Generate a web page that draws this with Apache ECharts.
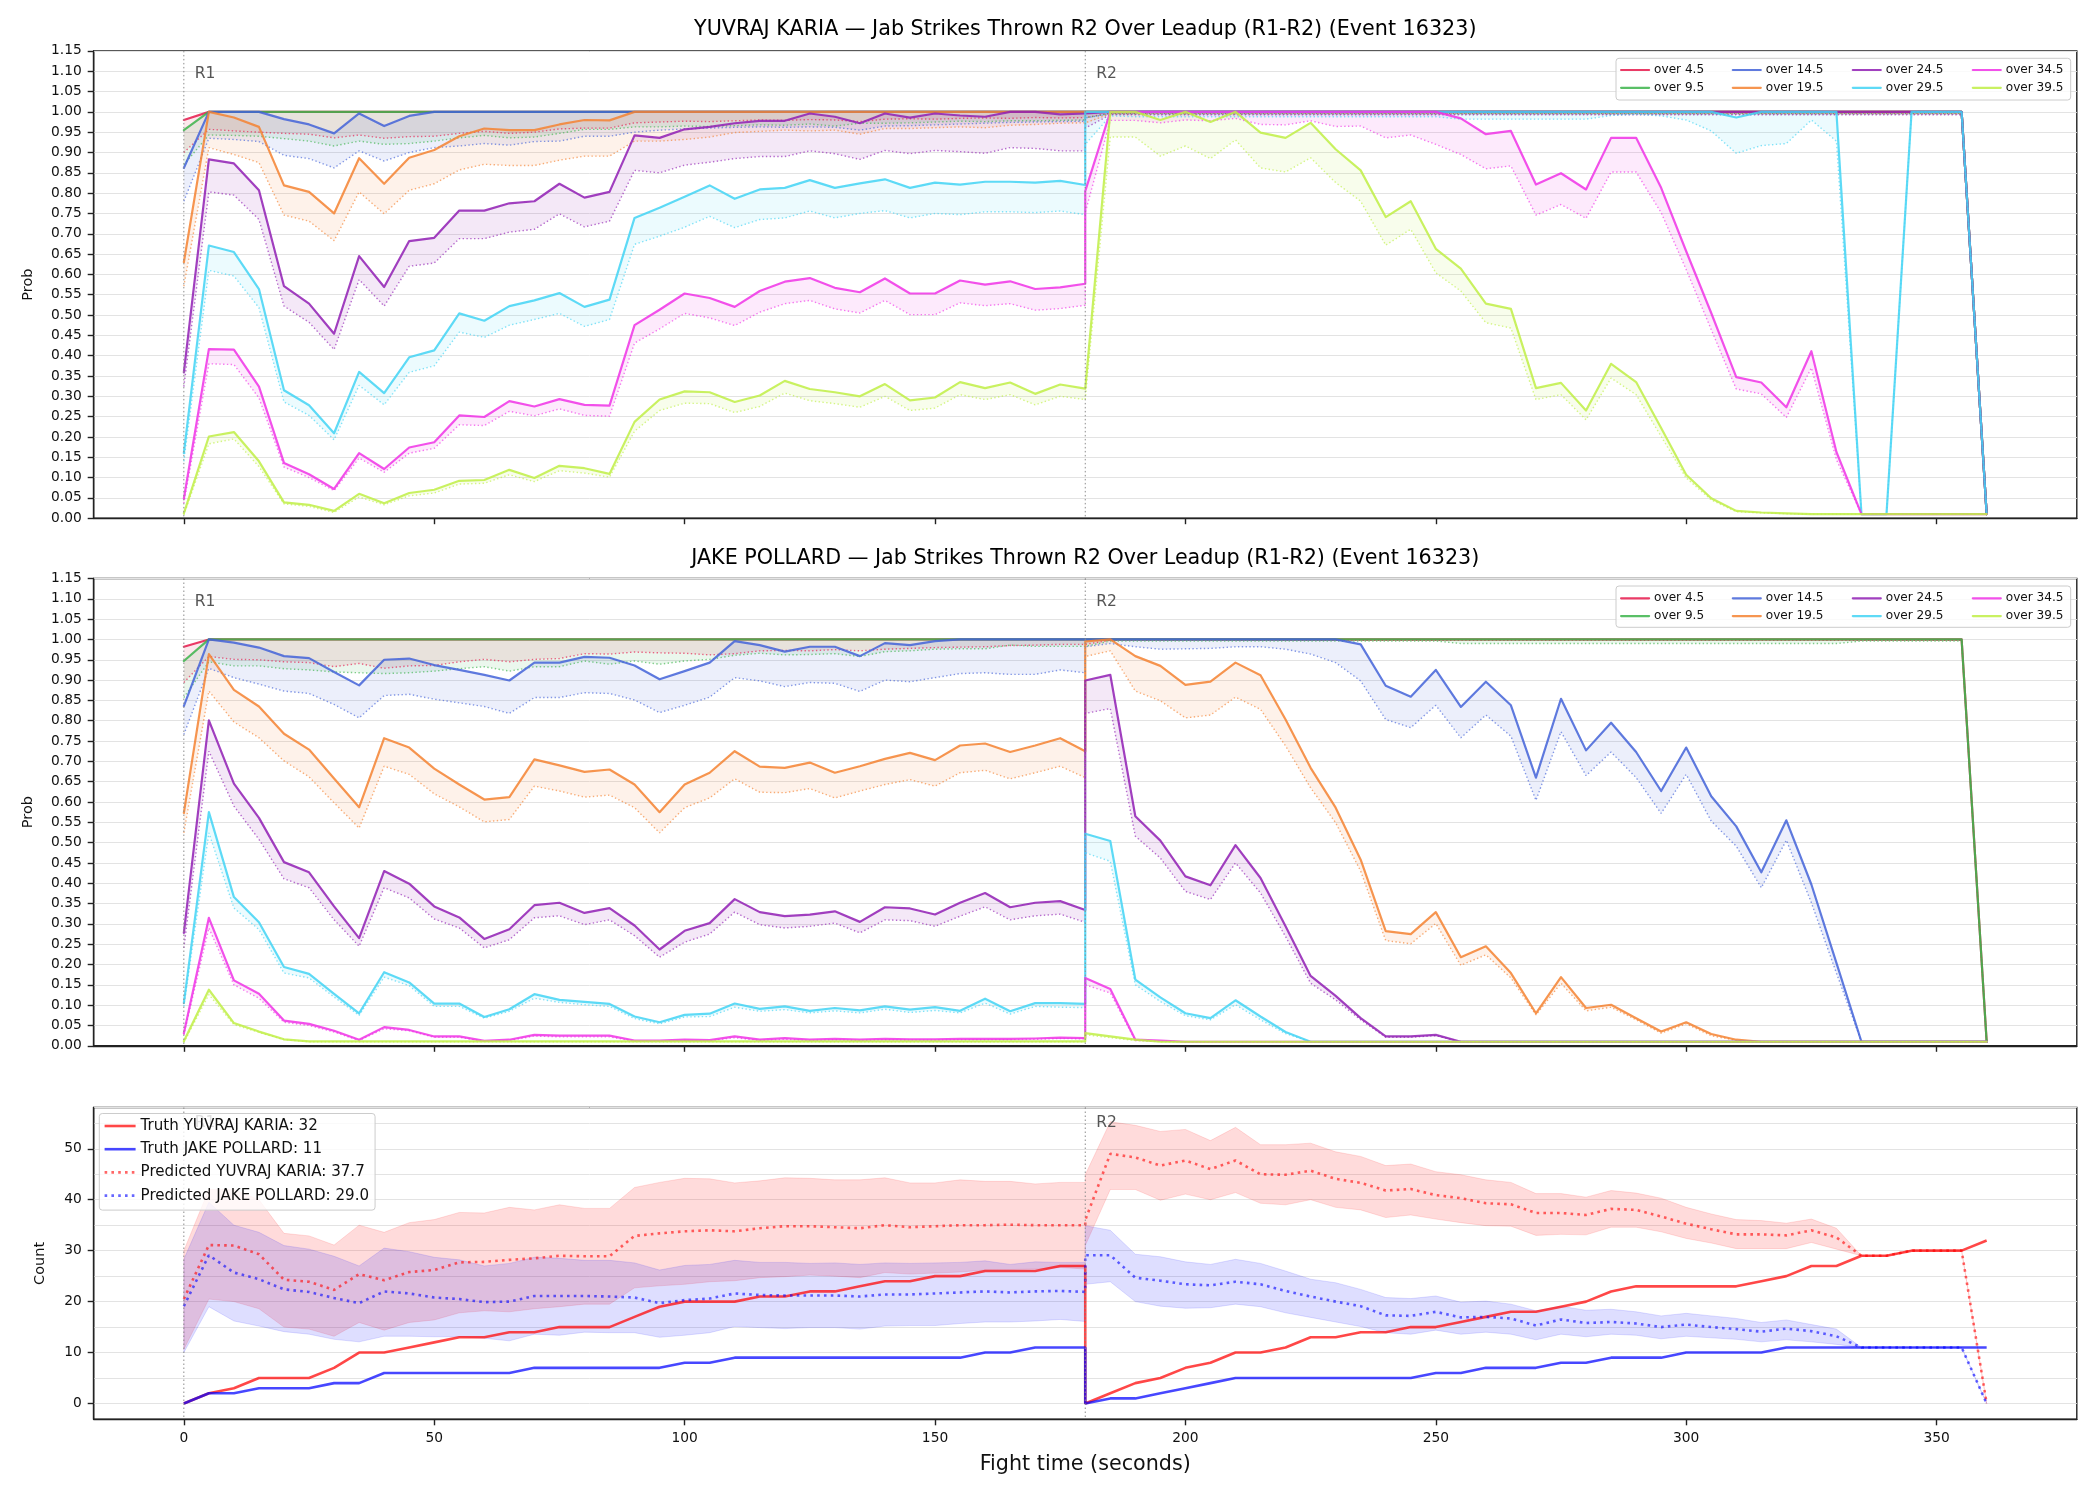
<!DOCTYPE html>
<html>
<head>
<meta charset="utf-8">
<title>Jab Strikes Thrown R2 Over Leadup</title>
<script src="https://cdn.jsdelivr.net/npm/echarts@6.0.0/dist/echarts.min.js"></script>
<style>
html,body{margin:0;padding:0;background:#ffffff;}
#chart{width:2100px;height:1500px;}
</style>
</head>
<body>
<div id="chart"></div>
<script>
// ---------------- DATA ----------------
const fighters = ['YUVRAJ KARIA', 'JAKE POLLARD'];
const titleSuffix = ' \u2014 Jab Strikes Thrown R2 Over Leadup (R1-R2) (Event 16323)';
const predictedTotals = [37.7, 29.0];
const T_R1 = [0,5,10,15,20,25,30,35,40,45,50,55,60,65,70,75,80,85,90,95,100,105,110,115,120,125,130,135,140,145,150,155,160,165,170,175,180];
const T_R2 = [180,185,190,195,200,205,210,215,220,225,230,235,240,245,250,255,260,265,270,275,280,285,290,295,300,305,310,315,320,325,330,335,340,345,350,355,360];
const xTicks = [0,50,100,150,200,250,300,350];
const countTicks = [0,10,20,30,40,50];
const roundStarts = [0,180];
const roundNames = ['R1','R2'];
const thresholds = ['over 4.5','over 9.5','over 14.5','over 19.5','over 24.5','over 29.5','over 34.5','over 39.5'];
const colors = ['#e6194B','#3cb44b','#4363d8','#f58231','#911eb4','#42d4f4','#f032e6','#bfef45'];

// ---- YUVRAJ KARIA probability panel (solid = model line, dot = dotted line) ----
const kar45_r1 = [0.98, 1,1,1,1,1,1,1,1,1,1, 1,1,1,1,1,1,1,1,1,1, 1,1,1,1,1,1,1,1,1,1, 1,1,1,1,1,1];
const kar45_r2 = [1,1,1,1,1,1,1,1,1,1, 1,1,1,1,1,1,1,1,1,1, 1,1,1,1,1,1,1,1,1,1, 1,1,1,1,1,1, 0.01];
const kar45dot_r1 = [0.90,0.957,0.953,0.95,0.947,0.945,0.936,0.943,0.935,0.939, 0.94,0.947,0.952,0.947,0.95,0.958,0.96,0.96,0.973,0.975, 0.977,0.976,0.978,0.98,0.979,0.981,0.98,0.976,0.982,0.983, 0.982,0.984,0.985,0.984,0.986,0.985,0.986];
const kar45dot_r2 = [0.99, 0.997,0.997,0.997,0.997,0.997,0.997,0.997,0.997,0.997,0.997, 0.997,0.997,0.997,0.997,0.997,0.997,0.997,0.997,0.997,0.997, 0.997,0.997,0.997,0.997,0.997,0.997,0.997,0.997,0.997,0.997, 0.997,0.997,0.997,0.997,0.997, 0.01];

const kar95_r1 = [0.955, 1,1,1,1,1,1,1,1,1,1, 1,1,1,1,1,1,1,1,1,1, 1,1,1,1,1,1,1,1,1,1, 1,1,1,1,1,1];
const kar95_r2 = [1,1,1,1,1,1,1,1,1,1, 1,1,1,1,1,1,1,1,1,1, 1,1,1,1,1,1,1,1,1,1, 1,1,1,1,1,1, 0.01];
const kar95dot_r1 = [0.87,0.943,0.942,0.94,0.934,0.928,0.916,0.928,0.92,0.922, 0.928,0.936,0.942,0.936,0.938,0.947,0.957,0.957,0.963,0.963, 0.965,0.964,0.966,0.968,0.967,0.97,0.965,0.972,0.972,0.973, 0.975,0.977,0.976,0.978,0.978,0.979,0.98];
const kar95dot_r2 = [0.985, 0.996,0.996,0.996,0.996,0.996,0.996,0.996,0.996,0.996,0.996, 0.996,0.996,0.996,0.996,0.996,0.996,0.996,0.996,0.996,0.996, 0.996,0.996,0.996,0.996,0.996,0.996,0.996,0.996,0.996,0.996, 0.996,0.996,0.996,0.996,0.996, 0.01];

const kar145_r1 = [0.862,1,1,1,0.982,0.969,0.947,0.996,0.965,0.99, 1,1,1,1,1,1,1,1,1,1, 1,1,1,1,1,1,1,1,1,1, 1,1,1,1,1,1,1];
const kar145_r2 = [1,1,1,1,1,1,1,1,1,1, 1,1,1,1,1,1,1,1,1,1, 1,1,1,1,1,1,1,1,1,1, 1,1,1,1,1,1, 0.01];
const kar145dot_r1 = [0.78,0.935,0.932,0.927,0.893,0.885,0.862,0.904,0.879,0.9, 0.912,0.916,0.922,0.918,0.927,0.928,0.94,0.94,0.95,0.955, 0.958,0.96,0.962,0.963,0.962,0.963,0.962,0.955,0.965,0.966, 0.968,0.97,0.972,0.974,0.975,0.976,0.977];
const kar145dot_r2 = [0.985, 0.995,0.995,0.995,0.995,0.995,0.995,0.995,0.995,0.995,0.995, 0.995,0.995,0.995,0.995,0.995,0.995,0.995,0.995,0.995,0.995, 0.995,0.995,0.995,0.995,0.995,0.995,0.995,0.995,0.995,0.995, 0.995,0.995,0.995,0.995,0.995, 0.01];

const kar195_r1 = [0.63,1,0.986,0.963,0.819,0.803,0.75,0.886,0.823,0.887, 0.906,0.94,0.959,0.955,0.955,0.969,0.98,0.979,1,1, 1,1,1,1,1,1,1,1,1,1, 1,1,1,1,1,1,1];
const kar195_r2 = [1,1,1,1,1,1,1,1,1,1, 1,1,1,1,1,1,1,1,1,1, 1,1,1,1,1,1,1,1,1,1, 1,1,1,1,1,1, 0.01];
const kar195dot_r1 = [0.571,0.912,0.895,0.875,0.746,0.731,0.683,0.803,0.749,0.807, 0.823,0.857,0.871,0.868,0.868,0.881,0.891,0.891,0.928,0.928, 0.932,0.938,0.949,0.952,0.955,0.953,0.955,0.945,0.959,0.959, 0.961,0.963,0.961,0.967,0.969,0.972,0.973];
const kar195dot_r2 = [0.97, 0.995,0.995,0.995,0.995,0.995,0.995,0.995,0.995,0.995,0.995, 0.995,0.995,0.995,0.995,0.995,0.995,0.995,0.995,0.995,0.995, 0.995,0.995,0.995,0.995,0.995,0.995,0.995,0.995,0.995,0.995, 0.995,0.995,0.995,0.995,0.995, 0.01];

const kar245_r1 = [0.359,0.883,0.873,0.807,0.571,0.528,0.454,0.645,0.569,0.682, 0.69,0.757,0.757,0.775,0.78,0.823,0.789,0.803,0.942,0.936, 0.957,0.963,0.972,0.978,0.978,0.996,0.988,0.972,0.996,0.986, 0.996,0.991,0.988,1,1,0.994,0.996];
const kar245_r2 = [1,1,1,1,1,1,1,1,1,1, 1,1,1,1,1,1,1,1,1,1, 1,1,1,1,1,1,1,1,1,1, 1,1,1,1,1,1, 0.01];
const kar245dot_r1 = [0.324,0.803,0.795,0.735,0.522,0.482,0.415,0.587,0.522,0.62, 0.628,0.688,0.688,0.704,0.711,0.749,0.717,0.731,0.856,0.85, 0.869,0.876,0.885,0.89,0.89,0.904,0.897,0.883,0.905,0.897, 0.905,0.902,0.898,0.912,0.91,0.904,0.904];
const kar245dot_r2 = [0.96, 0.993,0.993,0.993,0.993,0.993,0.993,0.993,0.993,0.993,0.993, 0.993,0.993,0.993,0.993,0.993,0.993,0.993,0.993,0.993,0.993, 0.993,0.993,0.993,0.993,0.993,0.993,0.993,0.993,0.993,0.993, 0.993,0.993,0.993,0.993,0.993, 0.01];

const kar295_r1 = [0.16,0.671,0.655,0.564,0.315,0.278,0.209,0.36,0.308,0.396, 0.413,0.504,0.486,0.522,0.536,0.554,0.52,0.538,0.739,0.764, 0.791,0.819,0.786,0.809,0.813,0.832,0.813,0.824,0.834,0.813, 0.826,0.821,0.828,0.828,0.826,0.83,0.82];
const kar295_r2 = [1,1,1,1,1,1,1,1,1,1, 1,1,1,1,1,1,1,1,1,1, 1,1,1,1,1,1, 0.986, 1,1,1,1, 0.01,0.01, 1,1,1, 0.01];
const kar295dot_r1 = [0.14,0.61,0.596,0.518,0.286,0.253,0.193,0.327,0.279,0.359, 0.375,0.458,0.445,0.475,0.489,0.504,0.472,0.489,0.674,0.694, 0.716,0.743,0.715,0.735,0.739,0.756,0.739,0.75,0.757,0.739, 0.75,0.747,0.754,0.754,0.752,0.756,0.747];
const kar295dot_r2 = [0.92,0.99, 0.988,0.988,0.988,0.988,0.988, 0.988,0.988,0.988,0.988,0.988, 0.988,0.988,0.988, 0.982,0.982,0.982,0.982,0.982,0.982, 0.991,0.994,0.99,0.98,0.953,0.898,0.917,0.922,0.98,0.928, 0.01,0.01,1,1,1,0.01];

const kar345_r1 = [0.048,0.416,0.415,0.324,0.136,0.108,0.072,0.16,0.121,0.174, 0.187,0.253,0.249,0.288,0.275,0.293,0.279,0.277,0.475,0.513, 0.553,0.542,0.52,0.559,0.582,0.591,0.567,0.556,0.59,0.553, 0.553,0.585,0.575,0.583,0.564,0.568,0.577];
const kar345_r2 = [0.805, 1,1,1,1,1,1,1,1,1,1, 1,1,1,1, 0.984,0.945,0.953,0.821,0.849,0.809,0.936,0.936,0.813,0.657, 0.505,0.347,0.334,0.273,0.411,0.163, 0.01,0.01,0.01,0.01,0.01,0.01];
const kar345dot_r1 = [0.037,0.38,0.378,0.296,0.126,0.1,0.068,0.148,0.113,0.16, 0.172,0.23,0.228,0.263,0.252,0.269,0.253,0.251,0.431,0.466, 0.504,0.493,0.474,0.507,0.528,0.536,0.515,0.505,0.536,0.501, 0.501,0.53,0.523,0.528,0.512,0.516,0.524];
const kar345dot_r2 = [0.752,0.979,0.979,0.973,0.98,0.978,0.984,0.969,0.968,0.978, 0.964,0.965,0.936,0.943,0.92,0.895,0.86,0.867,0.746,0.772, 0.738,0.852,0.852,0.752,0.612,0.464,0.318,0.306,0.248,0.37, 0.144, 0.01,0.01,0.01,0.01,0.01,0.01];

const kar395_r1 = [0.012,0.201,0.212,0.14,0.039,0.033,0.018,0.06,0.037,0.062, 0.07,0.092,0.094,0.119,0.099,0.129,0.123,0.109,0.237,0.292, 0.312,0.31,0.286,0.302,0.338,0.318,0.31,0.3,0.33,0.29, 0.297,0.335,0.32,0.334,0.306,0.329,0.319];
const kar395_r2 = [0.319,1,1,0.98,1,0.975,1,0.949,0.936,0.973, 0.908,0.856,0.741,0.78,0.663,0.614,0.528,0.515,0.32,0.333, 0.265,0.38,0.335,0.222,0.107,0.049,0.018,0.014,0.012, 0.01,0.01,0.01,0.01,0.01,0.01,0.01,0.01];
const kar395dot_r1 = [0.008,0.183,0.195,0.127,0.035,0.029,0.014,0.052,0.033,0.055, 0.062,0.084,0.086,0.107,0.09,0.117,0.111,0.101,0.214,0.265, 0.283,0.282,0.26,0.275,0.308,0.289,0.282,0.273,0.3,0.265, 0.271,0.304,0.292,0.304,0.279,0.3,0.292];
const kar395dot_r2 = [0.292,0.938,0.938,0.891,0.916,0.885,0.931,0.862,0.852,0.887, 0.826,0.78,0.672,0.711,0.604,0.559,0.481,0.468,0.292,0.304, 0.242,0.345,0.304,0.201,0.099,0.045,0.016,0.013,0.011, 0.01,0.01,0.01,0.01,0.01,0.01,0.01,0.01];

// ---- JAKE POLLARD probability panel ----
const pol45_r1 = [0.982, 1,1,1,1,1,1,1,1,1,1, 1,1,1,1,1,1,1,1,1,1, 1,1,1,1,1,1,1,1,1,1, 1,1,1,1,1,1];
const pol45_r2 = [1,1,1,1,1,1,1,1,1,1, 1,1,1,1,1,1,1,1,1,1, 1,1,1,1,1,1,1,1,1,1, 1,1,1,1,1,1, 0.01];
const pol45dot_r1 = [0.894,0.958,0.951,0.95,0.945,0.943,0.933,0.941,0.929,0.935, 0.936,0.945,0.951,0.945,0.951,0.953,0.965,0.964,0.969,0.967, 0.966,0.962,0.965,0.972,0.973,0.972,0.975,0.972,0.976,0.978, 0.98,0.981,0.982,0.985,0.986,0.988,0.988];
const pol45dot_r2 = [0.99, 0.998,0.998,0.998,0.998,0.998,0.998,0.998,0.998,0.998,0.998, 0.998,0.998,0.998,0.998,0.998,0.998,0.998,0.998,0.998,0.998, 0.998,0.998,0.998,0.998,0.998,0.998,0.998,0.998,0.998,0.998, 0.998,0.998,0.998,0.998,0.998, 0.01];

const pol95_r1 = [0.947, 1,1,1,1,1,1,1,1,1,1, 1,1,1,1,1,1,1,1,1,1, 1,1,1,1,1,1,1,1,1,1, 1,1,1,1,1,1];
const pol95_r2 = [1,1,1,1,1,1,1,1,1,1, 1,1,1,1,1,1,1,1,1,1, 1,1,1,1,1,1,1,1,1,1, 1,1,1,1,1,1, 0.01];
const pol95dot_r1 = [0.857,0.945,0.935,0.935,0.928,0.925,0.92,0.918,0.916,0.918, 0.922,0.928,0.933,0.922,0.933,0.933,0.947,0.939,0.947,0.939, 0.947,0.951,0.961,0.966,0.962,0.963,0.965,0.958,0.97,0.972, 0.976,0.977,0.977,0.986,0.983,0.983,0.983];
const pol95dot_r2 = [0.985, 0.996,0.996,0.996,0.996,0.996,0.996,0.996,0.996,0.996,0.996,0.996,0.996,0.996,0.996, 0.99,0.99,0.99,0.99,0.99,0.99,0.99,0.99,0.99,0.99,0.99,0.99,0.99,0.99,0.99,0.99, 0.996,0.996,0.996,0.996,0.996, 0.01];

const pol145_r1 = [0.836,1,0.992,0.98,0.959,0.954,0.92,0.887,0.95,0.953, 0.937,0.925,0.913,0.899,0.943,0.943,0.957,0.955,0.936,0.902, 0.922,0.943,0.996,0.986,0.97,0.982,0.982,0.959,0.991,0.986, 0.996,1,1,1,1,1,1];
const pol145_r2 = [1,1,1,1,1,1,1,1,1,1,1, 0.988,0.886,0.859,0.925,0.834,0.896,0.838,0.66,0.854,0.727, 0.795,0.723,0.627,0.734,0.614,0.54,0.427,0.555,0.397,0.204, 0.01,0.01,0.01,0.01,0.01,0.01];
const pol145dot_r1 = [0.766,0.929,0.906,0.89,0.873,0.867,0.84,0.807,0.862,0.865, 0.853,0.844,0.835,0.818,0.857,0.857,0.869,0.867,0.851,0.82, 0.838,0.858,0.906,0.898,0.884,0.894,0.892,0.872,0.9,0.896, 0.906,0.916,0.918,0.914,0.914,0.925,0.918];
const pol145dot_r2 = [0.982,0.99,0.982,0.976,0.977,0.978,0.982,0.982,0.976,0.964, 0.943,0.898,0.803,0.783,0.838,0.758,0.814,0.762,0.604,0.773, 0.665,0.723,0.66,0.572,0.668,0.553,0.491,0.389,0.506,0.352, 0.179, 0.01,0.01,0.01,0.01,0.01,0.01];

const pol195_r1 = [0.573,0.964,0.876,0.835,0.768,0.729,0.658,0.587,0.757,0.734, 0.682,0.643,0.606,0.612,0.705,0.69,0.674,0.68,0.643,0.575, 0.643,0.672,0.725,0.687,0.684,0.697,0.672,0.688,0.706,0.721, 0.703,0.739,0.744,0.723,0.739,0.757,0.725];
const pol195_r2 = [0.995,1,0.959,0.935,0.888,0.896,0.943,0.912,0.803,0.684, 0.586,0.458,0.282,0.275,0.329,0.218,0.245,0.179,0.08,0.169, 0.093,0.101,0.068,0.035,0.058,0.029,0.015, 0.01,0.01,0.01,0.01,0.01,0.01,0.01,0.01,0.01,0.01];
const pol195dot_r1 = [0.524,0.873,0.797,0.758,0.701,0.662,0.598,0.536,0.688,0.668, 0.62,0.588,0.551,0.557,0.639,0.627,0.612,0.617,0.586,0.524, 0.586,0.61,0.657,0.624,0.623,0.633,0.61,0.627,0.643,0.655, 0.639,0.672,0.678,0.657,0.672,0.688,0.66];
const pol195dot_r2 = [0.958,0.972,0.873,0.849,0.807,0.814,0.858,0.828,0.738,0.635, 0.549,0.43,0.259,0.251,0.301,0.198,0.224,0.167,0.076,0.154, 0.086,0.095,0.064,0.031,0.054,0.025,0.013, 0.01,0.01,0.01,0.01,0.01,0.01,0.01,0.01,0.01,0.01];

const pol245_r1 = [0.278,0.801,0.645,0.561,0.452,0.427,0.343,0.265,0.43,0.399, 0.343,0.316,0.263,0.287,0.346,0.352,0.327,0.339,0.296,0.237, 0.283,0.302,0.361,0.329,0.319,0.323,0.331,0.305,0.341,0.338, 0.323,0.352,0.376,0.341,0.352,0.356,0.334];
const pol245_r2 = [0.899,0.913,0.565,0.505,0.417,0.395,0.494,0.413,0.294,0.172, 0.123,0.068,0.023,0.023,0.027, 0.01,0.01,0.01,0.01,0.01,0.01,0.01,0.01,0.01,0.01, 0.01,0.01,0.01,0.01,0.01,0.01,0.01,0.01,0.01,0.01, 0.01,0.01];
const pol245dot_r1 = [0.241,0.725,0.59,0.508,0.411,0.389,0.31,0.245,0.389,0.364, 0.312,0.29,0.241,0.261,0.315,0.32,0.298,0.31,0.271,0.218, 0.255,0.275,0.329,0.298,0.29,0.294,0.302,0.278,0.31,0.308, 0.294,0.319,0.342,0.31,0.32,0.324,0.304];
const pol245dot_r2 = [0.818,0.83,0.516,0.462,0.38,0.36,0.45,0.376,0.269,0.154, 0.113,0.064,0.021,0.021,0.025, 0.01,0.01,0.01,0.01,0.01,0.01,0.01,0.01,0.01,0.01, 0.01,0.01,0.01,0.01,0.01,0.01,0.01,0.01,0.01,0.01, 0.01,0.01];

const pol295_r1 = [0.105,0.575,0.366,0.304,0.194,0.177,0.128,0.08,0.181,0.156, 0.104,0.104,0.071,0.09,0.127,0.113,0.108,0.103,0.072,0.058, 0.076,0.079,0.104,0.091,0.097,0.086,0.093,0.087,0.097,0.089, 0.095,0.086,0.116,0.085,0.105,0.105,0.103];
const pol295_r2 = [0.522,0.504,0.163,0.119,0.08,0.068,0.112,0.072,0.034, 0.01,0.01,0.01,0.01,0.01,0.01,0.01,0.01,0.01,0.01, 0.01,0.01,0.01,0.01,0.01,0.01,0.01,0.01,0.01,0.01, 0.01,0.01,0.01,0.01,0.01,0.01,0.01,0.01];
const pol295dot_r1 = [0.097,0.524,0.339,0.286,0.179,0.167,0.12,0.075,0.169,0.148, 0.097,0.097,0.068,0.085,0.117,0.107,0.101,0.097,0.067,0.054, 0.071,0.072,0.095,0.085,0.089,0.081,0.086,0.081,0.09,0.082, 0.087,0.081,0.105,0.078,0.097,0.095,0.094];
const pol295dot_r2 = [0.475,0.454,0.15,0.109,0.074,0.064,0.101,0.064,0.03, 0.01,0.01,0.01,0.01,0.01,0.01,0.01,0.01,0.01,0.01, 0.01,0.01,0.01,0.01,0.01,0.01,0.01,0.01,0.01,0.01, 0.01,0.01,0.01,0.01,0.01,0.01,0.01,0.01];

const pol345_r1 = [0.031,0.315,0.161,0.128,0.062,0.054,0.037,0.015,0.046,0.039, 0.023,0.023,0.012,0.015,0.027,0.025,0.025,0.025,0.013,0.013, 0.015,0.014,0.023,0.015,0.019,0.015,0.017,0.015,0.017,0.016, 0.016,0.017,0.017,0.017,0.018,0.02,0.019];
const pol345_r2 = [0.167,0.14,0.015,0.013, 0.01,0.01,0.01,0.01,0.01,0.01,0.01,0.01,0.01,0.01, 0.01,0.01,0.01,0.01,0.01,0.01,0.01,0.01,0.01,0.01, 0.01,0.01,0.01,0.01,0.01,0.01,0.01,0.01,0.01,0.01, 0.01,0.01,0.01];
const pol345dot_r1 = [0.027,0.29,0.15,0.117,0.058,0.05,0.034,0.013,0.042,0.037, 0.021,0.021,0.011,0.013,0.024,0.022,0.022,0.022,0.011,0.011, 0.013,0.012,0.02,0.013,0.016,0.013,0.015,0.013,0.015,0.014, 0.014,0.015,0.015,0.015,0.016,0.018,0.017];
const pol345dot_r2 = [0.15,0.13,0.013,0.011, 0.01,0.01,0.01,0.01,0.01,0.01,0.01,0.01,0.01,0.01, 0.01,0.01,0.01,0.01,0.01,0.01,0.01,0.01,0.01,0.01, 0.01,0.01,0.01,0.01,0.01,0.01,0.01,0.01,0.01,0.01, 0.01,0.01,0.01];

const pol395_r1 = [0.011,0.138,0.056,0.035,0.016, 0.011,0.011,0.011,0.011,0.011,0.011,0.011,0.011,0.011,0.011, 0.011,0.011,0.011,0.011,0.011,0.011,0.011,0.011,0.011,0.011, 0.011,0.011,0.011,0.011,0.011,0.011,0.011,0.011,0.011,0.011, 0.011,0.011];
const pol395_r2 = [0.031,0.023,0.015, 0.01,0.01,0.01,0.01,0.01,0.01,0.01,0.01,0.01,0.01, 0.01,0.01,0.01,0.01,0.01,0.01,0.01,0.01,0.01,0.01, 0.01,0.01,0.01,0.01,0.01,0.01,0.01,0.01,0.01,0.01, 0.01,0.01,0.01,0.01];
const pol395dot_r1 = [0.008,0.126,0.052,0.033,0.015, 0.01,0.01,0.01,0.01,0.01,0.01,0.01,0.01,0.01,0.01, 0.01,0.01,0.01,0.01,0.01,0.01,0.01,0.01,0.01,0.01, 0.01,0.01,0.01,0.01,0.01,0.01,0.01,0.01,0.01,0.01, 0.01,0.01];
const pol395dot_r2 = [0.027,0.02,0.013, 0.01,0.01,0.01,0.01,0.01,0.01,0.01,0.01,0.01,0.01, 0.01,0.01,0.01,0.01,0.01,0.01,0.01,0.01,0.01,0.01, 0.01,0.01,0.01,0.01,0.01,0.01,0.01,0.01,0.01,0.01, 0.01,0.01,0.01,0.01];

// ---- Count panel ----
const truthKar_r1 = [0,2,3,5,5,5,7,10,10,11, 12,13,13,14,14,15,15,15,17,19, 20,20,20,21,21,22,22,23,24,24, 25,25,26,26,26,27,27];
const truthKar_r2 = [0,2,4,5,7,8,10,10,11,13, 13,14,14,15,15,16,17,18,18,19, 20,22,23,23,23,23,23,24,25,27, 27,29,29,30,30,30,32];
const truthPol_r1 = [0,2,2,3,3,3,4,4,6,6, 6,6,6,6,7,7,7,7,7,7, 8,8,9,9,9,9,9,9,9,9, 9,9,10,10,11,11,11];
const truthPol_r2 = [0,1,1,2,3,4,5,5,5,5, 5,5,5,5,6,6,7,7,7,8, 8,9,9,9,10,10,10,10,11,11, 11,11,11,11,11,11,11];
const predKar_r1 = [20.5,31.1,31,29.3,24.3,23.9,22.3,25.4,24.2,25.8, 26.2,27.7,27.8,28.2,28.5,29,28.9,28.9,32.9,33.4, 33.8,34,33.8,34.4,34.8,34.8,34.6,34.4,35,34.6, 34.8,35,35,35.1,35,35,35];
const predKar_r2 = [36,49,48.3,46.7,47.7,46,47.7,45,44.9,45.7, 44.1,43.3,41.8,42.1,40.9,40.3,39.3,39.1,37.4,37.4, 37,38.2,38,36.7,35.3,34.2,33.2,33.2,33,34, 32.6,29,29,30,30,30,0];
const bandKarHi_r1 = [30,42,42,40,33.4,32.9,31.1,35,33.6,35.5, 36.1,37.5,37.4,38.5,38,39,38.3,38.3,42.4,43.4, 44.2,44.1,43.3,43.7,44.3,44.2,43.9,43.9,44.3,43.3, 43.3,43.9,43.6,43.6,43.1,43.4,43.4];
const bandKarLo_r1 = [10.6,20.5,20,18.6,15,14.6,13.2,15.9,14.4,15.9, 16.4,17.8,18.2,18,18.6,19,19.5,19.5,22.7,23.1, 23.4,23.9,24.1,24.7,24.9,25.2,25,24.7,25.7,25.4, 25.6,25.8,26.2,26.3,26.4,26.7,26.4];
const bandKarHi_r2 = [44.9,55.3,54.6,53.4,53.8,51.6,54.2,50.8,50.8,51.1, 49.4,48.5,46.7,47,45.5,44.9,43.9,43.4,41.2,41.2, 40.5,41.8,41.3,40.3,38.5,37.2,36.1,35.9,35.4,36.2, 34.4,29,29,30,30,30,0];
const bandKarLo_r2 = [31,42,42,39.9,41.1,40,41.4,39.3,39,40, 38.5,38,36.5,37,36.2,35.5,34.9,34.8,33,33.2, 33.1,34.6,34.6,33.7,32.4,31.5,30.4,30.4,30.4,31.6, 30.3,29,29,30,30,30,0];
const predPol_r1 = [19.1,29.1,25.7,24.4,22.4,21.9,20.7,19.7,22,21.6, 20.8,20.5,19.9,20,21.1,21.1,21.1,21,20.8,19.7, 20.3,20.6,21.6,21.3,21.2,21.2,21.2,21,21.4,21.4, 21.6,21.8,22,21.8,22,22.1,21.9];
const predPol_r2 = [29.1,29.1,24.7,24.1,23.4,23.2,23.9,23.4,22.1,21, 20,19.1,17.3,17.2,18,16.9,17,16.7,15.3,16.5, 15.8,16,15.7,15,15.5,15,14.6,14.1,14.7,14.2, 13.2,11,11,11,11,11,0];
const bandPolHi_r1 = [28.3,39.5,35,33.6,31,30.3,28.9,27,30.5,29.8, 28.7,28.2,27,27.5,28.7,28.5,28.1,28.1,27.6,26.2, 27.1,27.3,28.1,27.7,27.7,27.5,27.6,27.3,27.6,27.5, 27.6,27.7,28,27.3,27.8,27.7,27.7];
const bandPolLo_r1 = [10,19,16.2,15.2,14.1,13.6,12.6,12.1,13.2,13.2, 13.1,13.1,12.8,12.3,13.6,13.4,14,13.9,13.9,13, 13.4,13.9,15.1,14.9,14.7,14.9,14.9,14.6,15.2,15.3, 15.3,15.7,16,16,16.2,16.5,16.1];
const bandPolHi_r2 = [34.9,34,29.3,28.8,27.8,27.3,28.3,27.5,26,24.4, 23.7,22.4,20.8,20.6,21.1,19.9,20.1,19.5,18.2,19.1, 18.3,18.5,18,17.2,17.7,17.2,16.7,15.9,16.4,15.5, 14.6,11,11,11,11,11,0];
const bandPolLo_r2 = [23.4,23.9,20,19.1,18.7,18.8,19.5,19,17.8,16.9, 16,15.1,13.9,13.6,14.4,13.6,14,13.6,12.5,13.6, 13.1,13.6,13.4,12.7,13.2,12.9,12.6,12.1,12.5,12.1, 11.6,11,11,11,11,11,0];

// ---------------- BUILD ----------------
const FONT = 'DejaVu Sans';
const karSolid = [[kar45_r1,kar45_r2],[kar95_r1,kar95_r2],[kar145_r1,kar145_r2],[kar195_r1,kar195_r2],[kar245_r1,kar245_r2],[kar295_r1,kar295_r2],[kar345_r1,kar345_r2],[kar395_r1,kar395_r2]];
const karDot = [[kar45dot_r1,kar45dot_r2],[kar95dot_r1,kar95dot_r2],[kar145dot_r1,kar145dot_r2],[kar195dot_r1,kar195dot_r2],[kar245dot_r1,kar245dot_r2],[kar295dot_r1,kar295dot_r2],[kar345dot_r1,kar345dot_r2],[kar395dot_r1,kar395dot_r2]];
const polSolid = [[pol45_r1,pol45_r2],[pol95_r1,pol95_r2],[pol145_r1,pol145_r2],[pol195_r1,pol195_r2],[pol245_r1,pol245_r2],[pol295_r1,pol295_r2],[pol345_r1,pol345_r2],[pol395_r1,pol395_r2]];
const polDot = [[pol45dot_r1,pol45dot_r2],[pol95dot_r1,pol95dot_r2],[pol145dot_r1,pol145dot_r2],[pol195dot_r1,pol195dot_r2],[pol245dot_r1,pol245dot_r2],[pol295dot_r1,pol295dot_r2],[pol345dot_r1,pol345dot_r2],[pol395dot_r1,pol395dot_r2]];
const countPairs = {truthKar:[truthKar_r1,truthKar_r2], truthPol:[truthPol_r1,truthPol_r2], predKar:[predKar_r1,predKar_r2], predPol:[predPol_r1,predPol_r2], bandKarHi:[bandKarHi_r1,bandKarHi_r2], bandKarLo:[bandKarLo_r1,bandKarLo_r2], bandPolHi:[bandPolHi_r1,bandPolHi_r2], bandPolLo:[bandPolLo_r1,bandPolLo_r2]};

function pts(pair) {
  return T_R1.map((t, i) => [t, pair[0][i]]).concat(T_R2.map((t, i) => [t, pair[1][i]]));
}
function rgba(hex, a) {
  const n = parseInt(hex.slice(1), 16);
  return 'rgba(' + ((n >> 16) & 255) + ',' + ((n >> 8) & 255) + ',' + (n & 255) + ',' + a + ')';
}
function bandSeries(g, upper, lower, fill, stroke) {
  return {
    type: 'custom', xAxisIndex: g, yAxisIndex: g, silent: true, z: 1,
    data: [upper[0]],
    renderItem: function (params, api) {
      const p = upper.map(q => api.coord(q)).concat(lower.slice().reverse().map(q => api.coord(q)));
      return { type: 'polygon', shape: { points: p },
        style: { fill: fill, stroke: stroke || null, lineWidth: stroke ? 1 : 0 } };
    }
  };
}
function roundSeries(g, yMin, yMax) {
  return {
    type: 'custom', xAxisIndex: g, yAxisIndex: g, silent: true, z: 3,
    data: roundStarts.map(t => [t, yMin]),
    renderItem: function (params, api) {
      const x = api.value(0);
      const top = api.coord([x, yMax]);
      const bot = api.coord([x, yMin]);
      const ty = top[1] + 0.05 * (bot[1] - top[1]);
      return { type: 'group', children: [
        { type: 'line', shape: { x1: top[0], y1: top[1], x2: bot[0], y2: bot[1] },
          style: { stroke: '#8c8c8c', lineWidth: 1, lineDash: [1.5, 2.5] } },
        { type: 'text', x: top[0] + 11, y: ty,
          style: { text: roundNames[params.dataIndex], fill: '#555555', fontSize: 15.5, fontFamily: FONT, align: 'left', verticalAlign: 'middle' } }
      ] };
    }
  };
}

const series = [];
[[karSolid, karDot], [polSolid, polDot]].forEach(([solidArr, dotArr], g) => {
  thresholds.forEach((name, i) => {
    const s = pts(solidArr[i]);
    const d = pts(dotArr[i]);
    series.push(bandSeries(g, s, d, rgba(colors[i], 0.1), null));
    series.push({ type: 'line', name: name + ' lower', xAxisIndex: g, yAxisIndex: g, data: d, symbol: 'none', silent: true, z: 2,
      itemStyle: { color: colors[i] },
      lineStyle: { color: colors[i], width: 1.4, type: [1.4, 2.4], opacity: 0.65 } });
    series.push({ type: 'line', name: name, xAxisIndex: g, yAxisIndex: g, data: s, symbol: 'none', z: 2,
      itemStyle: { color: colors[i] },
      lineStyle: { color: colors[i], width: 2.2, opacity: 0.85, join: 'round', cap: 'round' } });
  });
  series.push(roundSeries(g, 0, 1.15));
});

const truthKarName = 'Truth ' + fighters[0] + ': ' + truthKar_r2[truthKar_r2.length - 1];
const truthPolName = 'Truth ' + fighters[1] + ': ' + truthPol_r2[truthPol_r2.length - 1];
const predKarName = 'Predicted ' + fighters[0] + ': ' + predictedTotals[0].toFixed(1);
const predPolName = 'Predicted ' + fighters[1] + ': ' + predictedTotals[1].toFixed(1);

series.push(bandSeries(2, pts(countPairs.bandKarHi), pts(countPairs.bandKarLo), 'rgba(255,0,0,0.14)', 'rgba(255,0,0,0.12)'));
series.push(bandSeries(2, pts(countPairs.bandPolHi), pts(countPairs.bandPolLo), 'rgba(0,0,255,0.13)', 'rgba(0,0,255,0.12)'));
series.push({ type: 'line', name: truthKarName, xAxisIndex: 2, yAxisIndex: 2, data: pts(countPairs.truthKar), symbol: 'none', z: 2,
  itemStyle: { color: '#ff0000' }, lineStyle: { color: '#ff0000', width: 2.6, opacity: 0.72 } });
series.push({ type: 'line', name: truthPolName, xAxisIndex: 2, yAxisIndex: 2, data: pts(countPairs.truthPol), symbol: 'none', z: 2,
  itemStyle: { color: '#0000ff' }, lineStyle: { color: '#0000ff', width: 2.6, opacity: 0.72 } });
series.push({ type: 'line', name: predKarName, xAxisIndex: 2, yAxisIndex: 2, data: pts(countPairs.predKar), symbol: 'none', z: 2,
  itemStyle: { color: '#ff0000' }, lineStyle: { color: '#ff0000', width: 2.6, type: [2.6, 4.2], opacity: 0.6 } });
series.push({ type: 'line', name: predPolName, xAxisIndex: 2, yAxisIndex: 2, data: pts(countPairs.predPol), symbol: 'none', z: 2,
  itemStyle: { color: '#0000ff' }, lineStyle: { color: '#0000ff', width: 2.6, type: [2.6, 4.2], opacity: 0.6 } });
series.push(roundSeries(2, -3.1, 58.1));

// ---------------- AXES / LAYOUT ----------------
const gridBox = [
  { top: 50.9, height: 467.3 },
  { top: 578.5, height: 467.3 },
  { top: 1107.5, height: 311.8 }
];
const grids = gridBox.map(b => ({ left: 93.7, right: 23.2, top: b.top, height: b.height, show: true,
  borderColor: '#222222', borderWidth: 1.4, backgroundColor: '#ffffff', containLabel: false, outerBoundsMode: 'none' }));

const axisLineStyle = { color: '#222222', width: 1.4 };
const xAxes = [0, 1, 2].map(g => ({
  type: 'value', gridIndex: g, min: -18, max: 378,
  axisLine: { show: true, onZero: false, lineStyle: axisLineStyle },
  axisTick: { show: true, customValues: xTicks, length: 6, lineStyle: axisLineStyle },
  axisLabel: { show: g === 2, customValues: xTicks, fontSize: 13.8, color: '#111111', fontFamily: FONT, margin: 12 },
  splitLine: { show: false },
  name: g === 2 ? 'Fight time (seconds)' : '', nameLocation: 'middle', nameGap: 35,
  nameTextStyle: { fontSize: 20.7, color: '#111111', fontFamily: FONT }
}));
function probY(g) {
  return { type: 'value', gridIndex: g, min: 0, max: 1.15, interval: 0.05,
    name: 'Prob', nameLocation: 'middle', nameGap: 58, nameRotate: 90,
    nameTextStyle: { fontSize: 14.5, color: '#111111', fontFamily: FONT },
    axisLine: { show: true, onZero: false, lineStyle: axisLineStyle },
    axisTick: { show: true, length: 6, lineStyle: axisLineStyle },
    axisLabel: { fontSize: 13.8, color: '#111111', fontFamily: FONT, margin: 12, formatter: v => v.toFixed(2) },
    splitLine: { show: true, lineStyle: { color: '#e3e3e3', width: 1 } } };
}
const yAxes = [probY(0), probY(1),
  { type: 'value', gridIndex: 2, min: -3.1, max: 58.1,
    name: 'Count', nameLocation: 'middle', nameGap: 46, nameRotate: 90,
    nameTextStyle: { fontSize: 14.5, color: '#111111', fontFamily: FONT },
    axisLine: { show: true, onZero: false, lineStyle: axisLineStyle },
    axisTick: { show: true, customValues: countTicks, length: 6, lineStyle: axisLineStyle },
    axisLabel: { customValues: countTicks, fontSize: 13.8, color: '#111111', fontFamily: FONT, margin: 12 },
    splitLine: { show: false } },
  { type: 'value', gridIndex: 2, min: -3.1, max: 58.1, splitNumber: 12,
    axisLine: { show: false }, axisTick: { show: false }, axisLabel: { show: false },
    splitLine: { show: true, lineStyle: { color: '#e3e3e3', width: 1 } } }
];

const legends = [];
const colX = [1620, 1731.7, 1851.7, 1971.7];
[64, 592.3].forEach(top => colX.forEach((x, c) => legends.push({
  orient: 'vertical', left: x, top: top, padding: 0, itemGap: 5.8, itemWidth: 28, itemHeight: 14, itemTextGap: 9,
  selectedMode: false, textStyle: { fontSize: 12.1, color: '#111111', fontFamily: FONT },
  itemStyle: { opacity: 0 }, lineStyle: { width: 2.2 },
  data: [thresholds[2 * c], thresholds[2 * c + 1]]
})));
legends.push({
  orient: 'vertical', left: 99.3, top: 1113.5, padding: [5, 6, 7, 4], itemGap: 8.2, itemWidth: 31, itemHeight: 14, itemTextGap: 10,
  backgroundColor: 'rgba(255,255,255,0.8)', borderColor: '#cccccc', borderWidth: 1, borderRadius: 3,
  selectedMode: false, textStyle: { fontSize: 15.1, color: '#111111', fontFamily: FONT },
  itemStyle: { opacity: 0 }, lineStyle: { width: 2.6 },
  data: [truthKarName, truthPolName, predKarName, predPolName]
});

const graphics = [
  { type: 'text', x: 1085.25, y: 29.5, z: 10, style: { text: fighters[0] + titleSuffix, fill: '#000000', fontSize: 20.7, fontFamily: FONT, align: 'center', verticalAlign: 'middle' } },
  { type: 'text', x: 1085.25, y: 558.4, z: 10, style: { text: fighters[1] + titleSuffix, fill: '#000000', fontSize: 20.7, fontFamily: FONT, align: 'center', verticalAlign: 'middle' } },
  { type: 'rect', z: 3, shape: { x: 1616, y: 58.3, width: 454.7, height: 41.7, r: 3 }, style: { fill: 'rgba(255,255,255,0.8)', stroke: '#cccccc', lineWidth: 1 } },
  { type: 'rect', z: 3, shape: { x: 1616, y: 586, width: 454.7, height: 41.3, r: 3 }, style: { fill: 'rgba(255,255,255,0.8)', stroke: '#cccccc', lineWidth: 1 } }
];

const chart = echarts.init(document.getElementById('chart'), null, { renderer: 'canvas' });
chart.setOption({
  animation: false,
  backgroundColor: '#ffffff',
  grid: grids,
  xAxis: xAxes,
  yAxis: yAxes,
  legend: legends,
  graphic: graphics,
  series: series
});
</script>
</body>
</html>
